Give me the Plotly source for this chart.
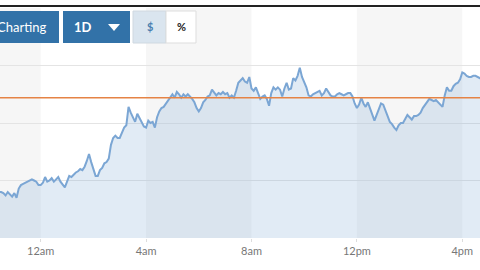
import pandas as pd
import plotly.graph_objects as go

# ---- data (5-minute closes) ----
start_time = "2018-06-30 22:20"
prices = [
    6240, 6240, 6240, 6239, 6237, 6240, 6238, 6236, 6239, 6235,
    6243, 6246, 6247, 6248, 6249, 6250, 6251, 6250, 6249, 6246,
    6246, 6248, 6253, 6249, 6250, 6252, 6249, 6251, 6253, 6249,
    6246, 6244, 6249, 6254, 6253, 6255, 6257, 6258, 6260, 6259,
    6262, 6267, 6273, 6266, 6259, 6254, 6254, 6259, 6261, 6265,
    6266, 6269, 6281, 6287, 6289, 6287, 6287, 6291, 6296, 6298,
    6314, 6309, 6305, 6301, 6308, 6304, 6300, 6297, 6296, 6302,
    6300, 6301, 6296, 6305, 6310, 6313, 6314, 6317, 6320, 6323,
    6325, 6322, 6327, 6325, 6322, 6325, 6323, 6325, 6323, 6321,
    6318, 6313, 6310, 6313, 6318, 6320, 6323, 6324, 6329, 6326,
    6324, 6326, 6325, 6327, 6325, 6326, 6322, 6324, 6322, 6328,
    6335, 6337, 6339, 6336, 6335, 6340, 6330, 6328, 6331, 6326,
    6321, 6323, 6324, 6321, 6315, 6326, 6331, 6329, 6331, 6329,
    6323, 6330, 6335, 6329, 6330, 6339, 6337, 6341, 6348, 6340,
    6336, 6331, 6324, 6323, 6325, 6326, 6327, 6328, 6324, 6326,
    6330, 6327, 6324, 6323, 6323, 6325, 6326, 6325, 6324, 6325,
    6326, 6326, 6323, 6317, 6313, 6316, 6322, 6317, 6314, 6318,
    6313, 6307, 6302, 6307, 6313, 6317, 6316, 6310, 6306, 6301,
    6299, 6296, 6294, 6298, 6300, 6300, 6304, 6307, 6305, 6303,
    6306, 6306, 6307, 6309, 6313, 6316, 6319, 6321, 6320, 6319,
    6320, 6318, 6316, 6314, 6324, 6331, 6328, 6328, 6332, 6334,
    6335, 6338, 6344, 6343, 6341, 6340, 6340, 6341, 6341, 6340,
    6339, 6339, 6339,
]
open_price = 6322
tick_times = ["2018-07-01 00:00", "2018-07-01 04:00", "2018-07-01 08:00",
              "2018-07-01 12:00", "2018-07-01 16:00"]
tick_labels = ["12am", "4am", "8am", "12pm", "4pm"]
band_times = [("2018-06-30 20:00", "2018-07-01 00:00"),
              ("2018-07-01 04:00", "2018-07-01 08:00"),
              ("2018-07-01 12:00", "2018-07-01 16:00")]

times = pd.date_range(start=start_time, periods=len(prices), freq="5min")

fig = go.Figure()
fig.add_trace(go.Scatter(
    x=times, y=prices, mode="lines",
    line=dict(color="#7ba6d4", width=2),
    fill="tozeroy", fillcolor="rgba(120,165,210,0.22)",
    hoverinfo="skip", showlegend=False,
))

shapes = []
for a, b in band_times:
    shapes.append(dict(type="rect", xref="x", yref="paper", x0=a, x1=b, y0=0, y1=1,
                       fillcolor="#f6f6f6", line=dict(width=0), layer="below"))
# open price line
shapes.append(dict(type="line", xref="paper", yref="y", x0=0, x1=1,
                   y0=open_price, y1=open_price,
                   line=dict(color="#e58345", width=1.5)))
# top dark rule
shapes.append(dict(type="line", xref="paper", yref="paper", x0=0, x1=1,
                   y0=(238 - 6) / 230, y1=(238 - 6) / 230,
                   line=dict(color="#222222", width=2)))

def px_x(p):
    return p / 480

def px_y(p):
    return (238 - p) / 230

# buttons
btn_blue = "#3272a8"
shapes.append(dict(type="rect", xref="paper", yref="paper", x0=px_x(-5), x1=px_x(59),
                   y0=px_y(43), y1=px_y(11), fillcolor=btn_blue, line=dict(width=0)))
shapes.append(dict(type="rect", xref="paper", yref="paper", x0=px_x(63), x1=px_x(130),
                   y0=px_y(43), y1=px_y(11), fillcolor=btn_blue, line=dict(width=0)))
shapes.append(dict(type="rect", xref="paper", yref="paper", x0=px_x(133), x1=px_x(166),
                   y0=px_y(43), y1=px_y(11), fillcolor="#dae5ef",
                   line=dict(color="#cfd8e0", width=1)))
shapes.append(dict(type="rect", xref="paper", yref="paper", x0=px_x(166), x1=px_x(196),
                   y0=px_y(43), y1=px_y(11), fillcolor="#ffffff",
                   line=dict(color="#dddddd", width=1)))
# dropdown caret
tri = "M {:.4f},{:.4f} L {:.4f},{:.4f} L {:.4f},{:.4f} Z".format(
    px_x(108), px_y(24), px_x(120), px_y(24), px_x(114), px_y(31))
shapes.append(dict(type="path", xref="paper", yref="paper", path=tri,
                   fillcolor="#ffffff", line=dict(width=0)))

annotations = [
    dict(text="Charting", xref="paper", yref="paper", x=px_x(48), y=px_y(27),
         xanchor="right", yanchor="middle", showarrow=False,
         font=dict(family="Lato", size=13, color="#ffffff")),
    dict(text="<b>1D</b>", xref="paper", yref="paper", x=px_x(83), y=px_y(27),
         xanchor="center", yanchor="middle", showarrow=False,
         font=dict(family="Lato", size=13, color="#ffffff")),
    dict(text="<b>$</b>", xref="paper", yref="paper", x=px_x(149.5), y=px_y(27),
         xanchor="center", yanchor="middle", showarrow=False,
         font=dict(family="Lato", size=11, color="#4a7fb0")),
    dict(text="<b>%</b>", xref="paper", yref="paper", x=px_x(181), y=px_y(27),
         xanchor="center", yanchor="middle", showarrow=False,
         font=dict(family="Lato", size=11, color="#222222")),
]

fig.update_layout(
    width=480, height=270,
    margin=dict(l=0, r=0, t=8, b=32, pad=0),
    paper_bgcolor="#ffffff", plot_bgcolor="#ffffff",
    shapes=shapes, annotations=annotations,
    xaxis=dict(range=["2018-06-30 22:27:20", "2018-07-01 16:40:20"],
               tickvals=tick_times, ticktext=tick_labels,
               showgrid=False, zeroline=False, showline=False,
               ticks="outside", ticklen=3, tickcolor="#dddddd",
               tickfont=dict(family="Lato", size=11, color="#777777")),
    yaxis=dict(range=[6200, 6400], dtick=50, showticklabels=False,
               showgrid=True, gridcolor="#e4e4e4", gridwidth=1,
               zeroline=False, showline=False),
)

fig.write_html("out.html")
